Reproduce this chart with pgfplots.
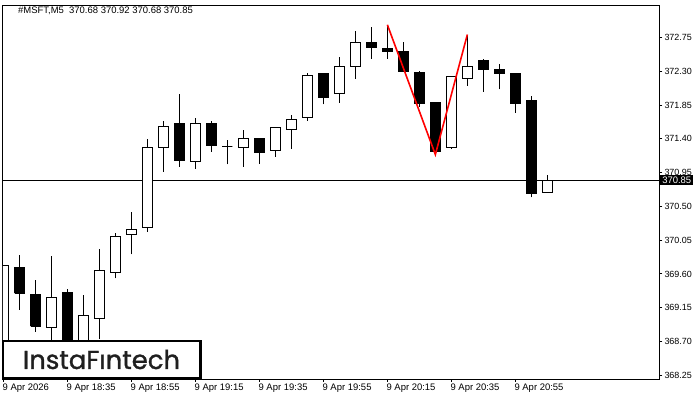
\documentclass[border=0pt]{standalone}
\usepackage{fontspec}
\setmainfont{Liberation Sans}
\newfontfamily\logofont[FakeBold=1.2]{Poppins}
\usepackage{pgfplots}
\pgfplotsset{compat=1.18}
\begin{document}
\begin{tikzpicture}[font=\fontsize{9.5}{11}\selectfont]
\begin{axis}[
  scale only axis, width=656.3bp, height=373bp,
  xmin=-0.03, xmax=41, ymin=368.20, ymax=373.17,
  axis line style={line width=1bp},
  tick align=outside, major tick length=3bp,
  tick style={black, line width=1bp},
  xtick pos=left, ytick pos=right, yticklabel pos=right,
  xtick={0,4,8,12,16,20,24,28,32},
  xticklabels={9 Apr 2026, 9 Apr 18:35, 9 Apr 18:55, 9 Apr 19:15, 9 Apr 19:35, 9 Apr 19:55, 9 Apr 20:15, 9 Apr 20:35, 9 Apr 20:55},
  xticklabel style={anchor=north west, inner sep=0pt, xshift=-1bp, yshift=-2bp, font=\fontsize{9.5}{11}\selectfont},
  ytick={368.25,368.70,369.15,369.60,370.05,370.50,370.95,371.40,371.85,372.30,372.75},
  yticklabel style={anchor=west, inner sep=0pt, xshift=2bp, font=\fontsize{9}{11}\selectfont, /pgf/number format/.cd, fixed, fixed zerofill, precision=2, assume math mode=true},
  scaled y ticks=false,
  clip=true,
]
% current price line
\addplot[black, line width=1bp] coordinates {(-1,370.85) (42,370.85)};
% wicks
\addplot[black, line width=1bp, unbounded coords=jump] coordinates {
(0,368.50) (0,369.72) (0,nan)
(1,369.12) (1,369.85) (1,nan)
(2,368.83) (2,369.52) (2,nan)
(3,368.60) (3,369.84) (3,nan)
(4,368.45) (4,369.40) (4,nan)
(5,368.55) (5,369.32) (5,nan)
(6,368.73) (6,369.93) (6,nan)
(7,369.54) (7,370.14) (7,nan)
(8,369.86) (8,370.42) (8,nan)
(9,370.16) (9,371.40) (9,nan)
(10,370.96) (10,371.64) (10,nan)
(11,371.03) (11,372.00) (11,nan)
(12,371.00) (12,371.68) (12,nan)
(13,371.23) (13,371.64) (13,nan)
(14,371.06) (14,371.38) (14,nan)
(15,371.03) (15,371.52) (15,nan)
(16,371.07) (16,371.40) (16,nan)
(17,371.16) (17,371.56) (17,nan)
(18,371.27) (18,371.72) (18,nan)
(19,371.64) (19,372.28) (19,nan)
(20,371.86) (20,372.27) (20,nan)
(21,371.88) (21,372.49) (21,nan)
(22,372.20) (22,372.84) (22,nan)
(23,372.47) (23,372.89) (23,nan)
(24,372.47) (24,372.92) (24,nan)
(25,372.30) (25,372.69) (25,nan)
(26,371.83) (26,372.31) (26,nan)
(27,371.23) (27,371.89) (27,nan)
(28,371.27) (28,372.24) (28,nan)
(29,372.11) (29,372.79) (29,nan)
(30,372.03) (30,372.47) (30,nan)
(31,372.06) (31,372.40) (31,nan)
(32,371.75) (32,372.27) (32,nan)
(33,370.62) (33,371.97) (33,nan)
(34,370.68) (34,370.92)
};
% white bodies
\addplot[draw=black, fill=white, line width=1bp, unbounded coords=jump] coordinates {
(-0.31,368.60) (0.31,368.60) (0.31,369.71) (-0.31,369.71) (-0.31,368.60) (0,nan)
(2.69,368.88) (3.31,368.88) (3.31,369.29) (2.69,369.29) (2.69,368.88) (3,nan)
(4.69,368.62) (5.31,368.62) (5.31,369.04) (4.69,369.04) (4.69,368.62) (5,nan)
(5.69,369.01) (6.31,369.01) (6.31,369.64) (5.69,369.64) (5.69,369.01) (6,nan)
(6.69,369.62) (7.31,369.62) (7.31,370.10) (6.69,370.10) (6.69,369.62) (7,nan)
(7.69,370.12) (8.31,370.12) (8.31,370.19) (7.69,370.19) (7.69,370.12) (8,nan)
(8.69,370.22) (9.31,370.22) (9.31,371.28) (8.69,371.28) (8.69,370.22) (9,nan)
(9.69,371.28) (10.31,371.28) (10.31,371.57) (9.69,371.57) (9.69,371.28) (10,nan)
(11.69,371.10) (12.31,371.10) (12.31,371.60) (11.69,371.60) (11.69,371.10) (12,nan)
(14.69,371.29) (15.31,371.29) (15.31,371.40) (14.69,371.40) (14.69,371.29) (15,nan)
(16.69,371.24) (17.31,371.24) (17.31,371.55) (16.69,371.55) (16.69,371.24) (17,nan)
(17.69,371.53) (18.31,371.53) (18.31,371.66) (17.69,371.66) (17.69,371.53) (18,nan)
(18.69,371.69) (19.31,371.69) (19.31,372.25) (18.69,372.25) (18.69,371.69) (19,nan)
(20.69,372.00) (21.31,372.00) (21.31,372.36) (20.69,372.36) (20.69,372.00) (21,nan)
(21.69,372.36) (22.31,372.36) (22.31,372.68) (21.69,372.68) (21.69,372.36) (22,nan)
(27.69,371.29) (28.31,371.29) (28.31,372.23) (27.69,372.23) (27.69,371.29) (28,nan)
(28.69,372.21) (29.31,372.21) (29.31,372.37) (28.69,372.37) (28.69,372.21) (29,nan)
(33.69,370.68) (34.31,370.68) (34.31,370.85) (33.69,370.85) (33.69,370.68)
};
% black bodies
\addplot[draw=black, fill=black, line width=1bp, unbounded coords=jump] coordinates {
(0.69,369.34) (1.31,369.34) (1.31,369.69) (0.69,369.69) (0.69,369.34) (1,nan)
(1.69,368.90) (2.31,368.90) (2.31,369.33) (1.69,369.33) (1.69,368.90) (2,nan)
(3.69,368.55) (4.31,368.55) (4.31,369.35) (3.69,369.35) (3.69,368.55) (4,nan)
(10.69,371.11) (11.31,371.11) (11.31,371.60) (10.69,371.60) (10.69,371.11) (11,nan)
(12.69,371.31) (13.31,371.31) (13.31,371.61) (12.69,371.61) (12.69,371.31) (13,nan)
(13.69,371.30) (14.31,371.30) (14.31,371.30) (13.69,371.30) (13.69,371.30) (14,nan)
(15.69,371.22) (16.31,371.22) (16.31,371.40) (15.69,371.40) (15.69,371.22) (16,nan)
(19.69,371.95) (20.31,371.95) (20.31,372.27) (19.69,372.27) (19.69,371.95) (20,nan)
(22.69,372.62) (23.31,372.62) (23.31,372.69) (22.69,372.69) (22.69,372.62) (23,nan)
(23.69,372.56) (24.31,372.56) (24.31,372.61) (23.69,372.61) (23.69,372.56) (24,nan)
(24.69,372.30) (25.31,372.30) (25.31,372.56) (24.69,372.56) (24.69,372.30) (25,nan)
(25.69,371.87) (26.31,371.87) (26.31,372.29) (25.69,372.29) (25.69,371.87) (26,nan)
(26.69,371.23) (27.31,371.23) (27.31,371.89) (26.69,371.89) (26.69,371.23) (27,nan)
(29.69,372.32) (30.31,372.32) (30.31,372.44) (29.69,372.44) (29.69,372.32) (30,nan)
(30.69,372.27) (31.31,372.27) (31.31,372.32) (30.69,372.32) (30.69,372.27) (31,nan)
(31.69,371.87) (32.31,371.87) (32.31,372.27) (31.69,372.27) (31.69,371.87) (32,nan)
(32.69,370.67) (33.31,370.67) (33.31,371.91) (32.69,371.91) (32.69,370.67)
};
% pattern lines
\addplot[red, line width=1.6bp] coordinates {(24,372.92) (27,371.19) (29,372.79)};
\coordinate (pl) at (axis cs:41,370.85);
\end{axis}
\node[fill=black, text=white, anchor=west, inner xsep=2bp, inner ysep=0pt, minimum height=10bp, font=\fontsize{9.5}{10}\selectfont] at ([xshift=0.8bp]pl) {370.85};
\node[anchor=west, inner sep=0pt] at ([shift={(15bp,-5bp)}]current axis.north west) {\#MSFT,M5\ \ 370.68 370.92 370.68 370.85};
\draw[line width=2.5bp, fill=white] ([shift={(0.2bp,1.2bp)}]current axis.south west) rectangle ([shift={(197.5bp,37.8bp)}]current axis.south west);
\node[text=black!88, inner sep=0pt] at ([shift={(98.5bp,19.5bp)}]current axis.south west) {\logofont\fontsize{26}{30}\selectfont InstaFıntech};
\pgfresetboundingbox
\path[use as bounding box] ([shift={(-3bp,-21bp)}]current axis.south west) rectangle ([shift={(40.7bp,6bp)}]current axis.north east);
\end{tikzpicture}
\end{document}
